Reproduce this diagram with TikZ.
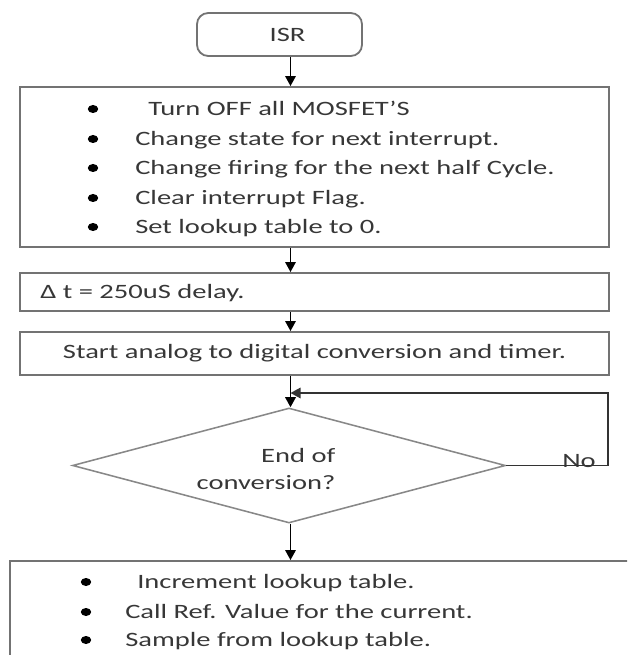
\documentclass[tikz,border=0pt]{standalone}
\usepackage{fontspec}
\setmainfont{Carlito}[FakeStretch=1.4]
\usepackage{tikz}
\usetikzlibrary{shapes.geometric, arrows.meta, positioning, calc}
\definecolor{cLine}{RGB}{115,115,115}
\definecolor{cText}{RGB}{55,55,55}
\tikzset{
	startbox/.style ={rectangle, rounded corners=8pt, draw=cLine, line width=1.3pt, minimum width=4.125cm, minimum height=1.075cm, inner sep=0pt, text=cText},
	stepbox/.style  ={rectangle, draw=cLine, line width=1.3pt, minimum width=14.725cm, inner sep=0pt, text=cText},
	decision/.style ={diamond, draw=cLine!85, line width=1.1pt, minimum width=10.825cm, minimum height=2.875cm, inner sep=0pt},
	bul/.style      ={ellipse, fill=black, minimum width=0.26cm, minimum height=0.2cm, inner sep=0pt},
	item/.style     ={anchor=base west, inner sep=0pt, text=cText},
	flowarrow/.style={-{Triangle[length=2.5mm, width=2.6mm]}, line width=1.3pt},
}
\begin{document}
\begin{tikzpicture}[font=\fontsize{14.5pt}{17pt}\selectfont]
	\useasboundingbox (0,0) rectangle (15.675,-16.375);
	\clip (0,0) rectangle (15.675,-16.375);
	\coordinate (spine) at (7.2625,0);
	% start
	\node[startbox] (isr) at (6.9875,-0.8625) {\hspace*{0.4cm}ISR};
	% interrupt actions
	\node[stepbox, minimum height=4cm] (box1) at (7.8625,-4.175) {};
	\foreach \y/\x/\t [count=\i] in {2.725/3.7/Turn OFF all MOSFET'S, 3.475/3.375/Change state for next interrupt., 4.2/3.375/Change firing for the next half Cycle., 4.95/3.375/Clear interrupt Flag., 5.675/3.375/Set lookup table to 0.} {
		\node[bul] (b\i) at (2.325,-\y) {};
		\node[item] (t\i) at (\x,-\y-0.16) {\t};
	}
	% delay and conversion
	\node[stepbox, minimum height=0.95cm] (box2) at (7.8625,-7.3) {};
	\node[item] (dly) at (1.0,-7.46) {Δ t = 250uS delay.};
	\node[stepbox, minimum height=1.075cm] (box3) at (7.8625,-8.8375) {Start analog to digital conversion and timer.};
	% decision
	\node[decision] (dec) at (7.225,-11.6375) {};
	\node[align=right, inner sep=0pt, text=cText, font=\fontsize{14.5pt}{19.5pt}\selectfont] (dectxt) at (6.65,-11.725) {End of\\conversion?};
	\node[anchor=south, inner sep=0pt, text=cText] (no) at (14.475,-11.69) {No};
	\coordinate (loopR) at (15.2,-11.6375);
	\coordinate (loopT) at (15.2,-9.825);
	% lookup table actions
	\node[stepbox, minimum width=15.75cm, minimum height=2.975cm] (box4) at (8.125,-15.5125) {};
	\foreach \y/\x/\t [count=\i] in {14.55/3.425/Increment lookup table., 15.3/3.125/Call Ref. Value for the current., 16.0/3.125/Sample from lookup table.} {
		\node[bul] (c\i) at (2.15,-\y) {};
		\node[item] (u\i) at (\x,-\y-0.16) {\t};
	}
	% arrows
	\draw[flowarrow] (isr.south -| spine) -- (box1.north -| spine);
	\draw[flowarrow] (box1.south -| spine) -- (box2.north -| spine);
	\draw[flowarrow] (box2.south -| spine) -- (box3.north -| spine);
	\draw[flowarrow] (box3.south -| spine) -- (dec.north -| spine);
	\draw[flowarrow, draw=black!80] (dec.east) -- (loopR) -- (loopT) -- (loopT -| spine);
	\draw[flowarrow] (dec.south -| spine) -- (box4.north -| spine);
\end{tikzpicture}
\end{document}
